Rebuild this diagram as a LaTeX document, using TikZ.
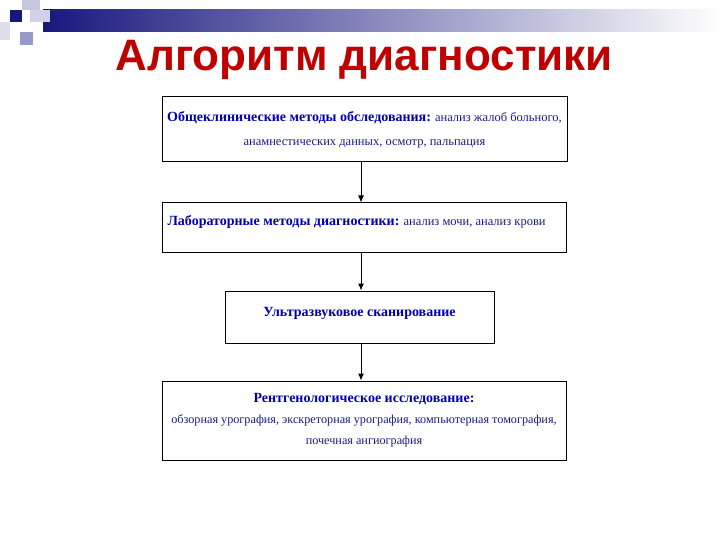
\documentclass[tikz,border=0pt]{standalone}
\usetikzlibrary{arrows.meta}
\usepackage{fontspec}
\setmainfont{Liberation Serif}
\newfontfamily\titlefont{Liberation Sans}
\definecolor{navy}{HTML}{1A1A8C}
\definecolor{hblue}{HTML}{0000B0}
\definecolor{tred}{HTML}{C00000}
\begin{document}
\begin{tikzpicture}[x=1pt,y=-1pt,
  box/.style={draw=black,line width=1pt,fill=white},
  hd/.style={text=hblue,font=\bfseries\fontsize{14}{16}\selectfont},
  arr/.style={-{Latex[length=7pt,width=6pt]},line width=1pt}]
\useasboundingbox (0,0) rectangle (720,540);
\fill[white] (0,0) rectangle (720,540);
% decoration
\shade[left color=navy!90!black,right color=white] (43,10) rectangle (720,32);
\fill[navy!25] (22,0) rectangle (40,10);
\fill[navy!15] (0,22) rectangle (10,40);
\fill[navy!20] (30,10) rectangle (50,22);
\fill[navy!90!black] (10,10) rectangle (22,22);
\fill[navy!45] (20,32) rectangle (33,45);
\node (title) at (364,60) {\titlefont\bfseries\color{tred}\fontsize{44}{46}\selectfont Алгоритм диагностики};
% boxes
\node[box,minimum width=405pt,minimum height=65pt] (b1) at (364.5,129.5) {};
\node[box,minimum width=404pt,minimum height=49pt] (b2) at (364,227.5) {};
\node[box,minimum width=269pt,minimum height=52pt] (b3) at (359.5,317) {};
\node[box,minimum width=404pt,minimum height=79pt] (b4) at (364,420.5) {};
\node[align=center,text=navy,font=\fontsize{12.5}{24}\selectfont] (t1) at (b1.center) {{\color{hblue}\bfseries\fontsize{14}{16}\selectfont Общеклинические методы обследования:} анализ жалоб больного,\\анамнестических данных, осмотр, пальпация};
\node[anchor=west,text=navy,font=\fontsize{12.5}{14}\selectfont] (t2) at (164,222) {{\color{hblue}\bfseries\fontsize{14}{16}\selectfont Лабораторные методы диагностики:} анализ мочи, анализ крови};
\node[hd] (t3) at (b3.center) [yshift=4pt] {Ультразвуковое сканирование};
\node[align=center,text=navy,font=\fontsize{12.2}{21}\selectfont] (t4) at (b4.center) {{\color{hblue}\bfseries\fontsize{14}{16}\selectfont Рентгенологическое исследование:}\\обзорная урография, экскреторная урография, компьютерная томография,\\почечная ангиография};
\draw[arr] (b1.south -| 361,0) -- (b2.north -| 361,0);
\draw[arr] (b2.south -| 361,0) -- (b3.north -| 361,0);
\draw[arr] (b3.south -| 361,0) -- (b4.north -| 361,0);
\end{tikzpicture}
\end{document}
